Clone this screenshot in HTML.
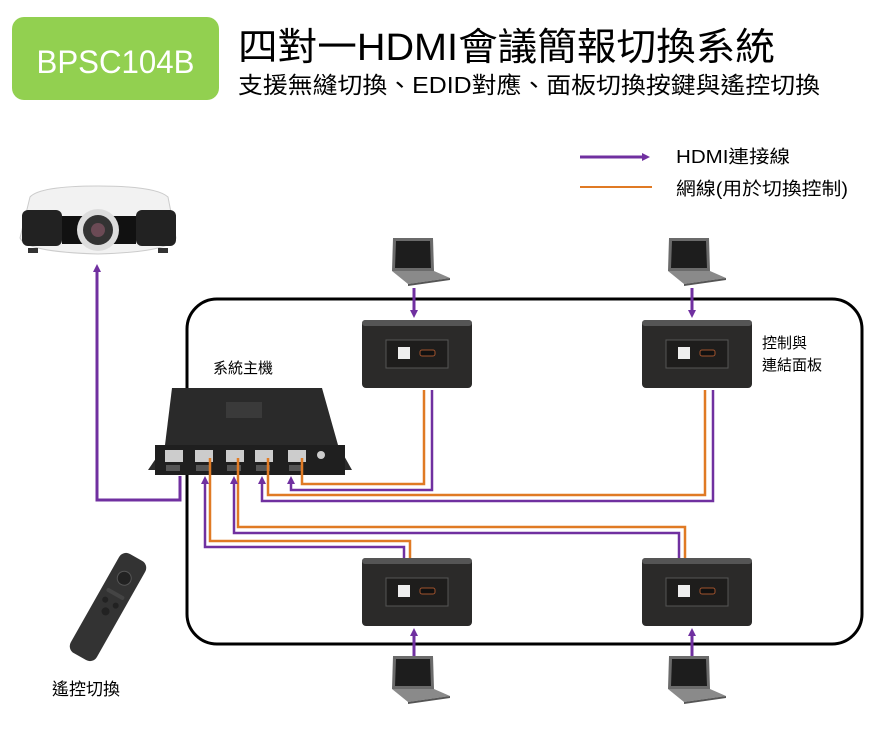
<!DOCTYPE html>
<html><head><meta charset="utf-8"><style>
html,body{margin:0;padding:0;background:#fff}
svg{display:block}
text{font-family:"Liberation Sans","Noto Sans CJK TC",sans-serif}
</style></head><body>
<svg width="887" height="732" viewBox="0 0 887 732" xmlns="http://www.w3.org/2000/svg">
<defs>
<marker id="ap" markerWidth="8" markerHeight="8" refX="4" refY="4" orient="auto" markerUnits="userSpaceOnUse" viewBox="0 0 8 8"><path d="M0,0 L8,4 L0,8 z" fill="#7030a0"/></marker>
<g id="panel">
<rect x="0" y="0" width="110" height="68" rx="4" fill="#2b2a29"/>
<rect x="0" y="0" width="110" height="6" rx="3" fill="#555"/>
<rect x="24" y="20" width="62" height="28" fill="#1e1d1c" stroke="#555" stroke-width="1"/>
<rect x="36" y="27" width="12" height="12" fill="#eee"/>
<rect x="58" y="30" width="15" height="6" rx="2" fill="#111" stroke="#a0522d" stroke-width="1"/>
</g>
<g id="laptop">
<path d="M5,0 L45,0 L46,33 L4,33 z" fill="#6b6b6b"/>
<path d="M8,3 L42,3 L43,30 L7,30 z" fill="#1d1d1d"/>
<path d="M4,33 L46,33 L62,40 L20,46 z" fill="#8a8a8a"/>
<path d="M20,46 L62,40 L62,42 L20,48 z" fill="#555"/>
</g>
</defs>

<rect x="12" y="17" width="207" height="83" rx="12" fill="#92d050"/>
<text x="115.5" y="73" font-size="32" fill="#fff" text-anchor="middle" textLength="158" lengthAdjust="spacingAndGlyphs">BPSC104B</text>
<text x="238" y="60" font-size="38" fill="#000" textLength="537" lengthAdjust="spacingAndGlyphs">四對一HDMI會議簡報切換系統</text>
<text x="238" y="93" font-size="23" fill="#000" textLength="582" lengthAdjust="spacingAndGlyphs">支援無縫切換、EDID對應、面板切換按鍵與遙控切換</text>

<line x1="580" y1="157" x2="646" y2="157" stroke="#7030a0" stroke-width="3" marker-end="url(#ap)"/>
<text x="676" y="163" font-size="18" textLength="114" lengthAdjust="spacingAndGlyphs">HDMI連接線</text>
<line x1="580" y1="187" x2="652" y2="187" stroke="#e07a24" stroke-width="2"/>
<text x="676" y="195" font-size="18" textLength="172" lengthAdjust="spacingAndGlyphs">網線(用於切換控制)</text>

<rect x="187" y="299" width="675" height="345" rx="30" fill="none" stroke="#000" stroke-width="3"/>

<!-- projector -->
<g>
<path d="M30,197 Q40,186 98,186 Q156,186 168,197 L176,238 Q170,252 98,254 Q26,252 20,238 z" fill="#f2f2f2" stroke="#ccc"/>
<rect x="22" y="210" width="40" height="36" rx="6" fill="#222"/>
<rect x="136" y="210" width="40" height="36" rx="6" fill="#222"/>
<rect x="62" y="216" width="74" height="28" fill="#111"/>
<circle cx="98" cy="230" r="21" fill="#ddd"/>
<circle cx="98" cy="230" r="15" fill="#333"/>
<circle cx="98" cy="230" r="7" fill="#6b4a55"/>
<rect x="28" y="248" width="10" height="5" fill="#333"/><rect x="158" y="248" width="10" height="5" fill="#333"/>
</g>

<!-- host -->
<text x="213" y="373" font-size="15">系統主機</text>
<g>
<path d="M172,388 L322,388 L338,445 L165,445 z" fill="#2a2a2a"/>
<path d="M148,470 L165,445 L338,445 L352,470 z" fill="#2c2c2c"/>
<rect x="155" y="445" width="190" height="30" fill="#1f1f1f"/>
<rect x="226" y="402" width="36" height="16" fill="#3a3a3a"/>
<rect x="165" y="450" width="18" height="12" fill="#ccc"/>
<rect x="195" y="450" width="18" height="12" fill="#ccc"/>
<rect x="226" y="450" width="18" height="12" fill="#ccc"/>
<rect x="255" y="450" width="18" height="12" fill="#ccc"/>
<rect x="288" y="450" width="18" height="12" fill="#ccc"/>
<rect x="166" y="465" width="14" height="6" fill="#555"/>
<rect x="196" y="465" width="14" height="6" fill="#555"/>
<rect x="227" y="465" width="14" height="6" fill="#555"/>
<rect x="256" y="465" width="14" height="6" fill="#555"/>
<rect x="289" y="465" width="14" height="6" fill="#555"/>
<circle cx="321" cy="455" r="4" fill="#ccc"/>
</g>

<!-- panels -->
<use href="#panel" x="362" y="320"/>
<use href="#panel" x="642" y="320"/>
<use href="#panel" x="362" y="558"/>
<use href="#panel" x="642" y="558"/>
<text x="762" y="348" font-size="15">控制與</text>
<text x="762" y="370" font-size="15">連結面板</text>

<use href="#laptop" x="388" y="238"/>
<use href="#laptop" x="664" y="238"/>
<use href="#laptop" x="388" y="656"/>
<use href="#laptop" x="664" y="656"/>

<!-- laptop arrows -->
<line x1="414" y1="288" x2="414" y2="314" stroke="#7030a0" stroke-width="3" marker-end="url(#ap)"/>
<line x1="692" y1="288" x2="692" y2="314" stroke="#7030a0" stroke-width="3" marker-end="url(#ap)"/>
<line x1="414" y1="656" x2="414" y2="632" stroke="#7030a0" stroke-width="3" marker-end="url(#ap)"/>
<line x1="692" y1="656" x2="692" y2="632" stroke="#7030a0" stroke-width="3" marker-end="url(#ap)"/>

<!-- projector link -->
<polyline points="180,476 180,500 97,500 97,268" fill="none" stroke="#7030a0" stroke-width="3" marker-end="url(#ap)"/>

<!-- cables -->
<g fill="none" stroke-width="2.5">
<polyline points="424,390 424,484 302,484 302,458" stroke="#e07a24"/>
<polyline points="432,390 432,490 291,490 291,480" stroke="#7030a0" marker-end="url(#ap)"/>
<polyline points="705,390 705,495 268,495 268,458" stroke="#e07a24"/>
<polyline points="713,390 713,501 262,501 262,480" stroke="#7030a0" marker-end="url(#ap)"/>
<polyline points="685,558 685,527 238,527 238,458" stroke="#e07a24"/>
<polyline points="679,558 679,533 234,533 234,480" stroke="#7030a0" marker-end="url(#ap)"/>
<polyline points="410,558 410,541 210,541 210,458" stroke="#e07a24"/>
<polyline points="404,558 404,547 205,547 205,480" stroke="#7030a0" marker-end="url(#ap)"/>
</g>

<!-- remote -->
<g transform="translate(108,607) rotate(29.5)">
<rect x="-15" y="-57" width="30" height="114" rx="8" fill="#333"/>
<circle cx="0" cy="-33" r="7" fill="#222" stroke="#555"/>
<rect x="-10" y="-17" width="20" height="4" rx="2" fill="#444"/>
<circle cx="-6" cy="-5" r="3" fill="#222"/><circle cx="6" cy="-5" r="3" fill="#222"/>
<circle cx="0" cy="5" r="4" fill="#222"/>
</g>
<text x="52" y="695" font-size="17">遙控切換</text>
</svg>
</body></html>
